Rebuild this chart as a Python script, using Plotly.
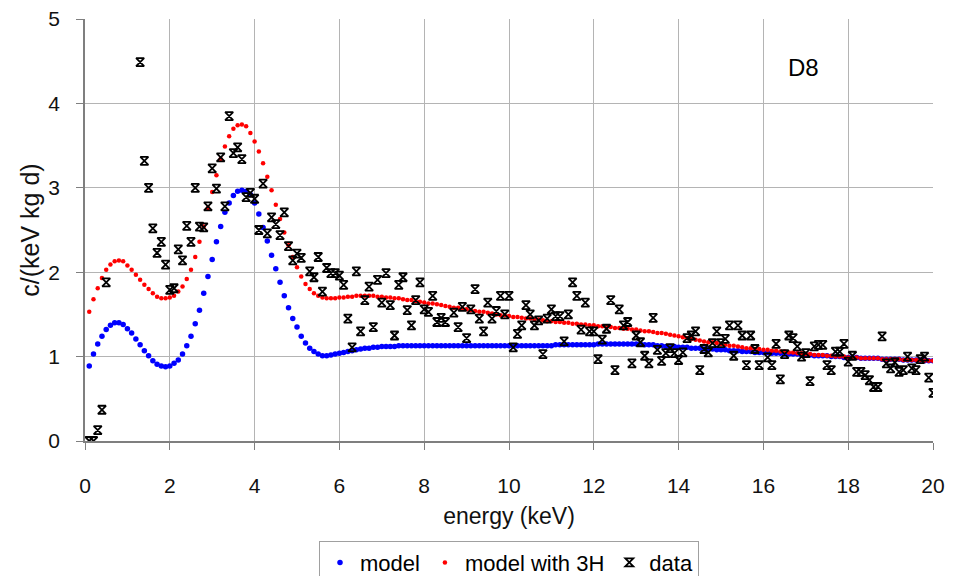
import plotly.graph_objects as go

# model energies (keV), one sample every 0.1 keV from 0.1 to 20.0
model_energy = [round(0.1 * i, 1) for i in range(1, 201)]

model = [
    0.89, 1.03, 1.15, 1.24, 1.32, 1.37, 1.40, 1.40, 1.38, 1.33,
    1.28, 1.21, 1.14, 1.07, 1.01, 0.95, 0.91, 0.89, 0.88, 0.89,
    0.92, 0.96, 1.03, 1.13, 1.24, 1.39, 1.55, 1.75, 1.95, 2.15,
    2.36, 2.54, 2.71, 2.82, 2.91, 2.96, 2.97, 2.96, 2.92, 2.82,
    2.69, 2.53, 2.37, 2.20, 2.04, 1.88, 1.72, 1.58, 1.45, 1.35,
    1.24, 1.16, 1.10, 1.06, 1.03, 1.01, 1.01, 1.02, 1.03, 1.04,
    1.05, 1.06, 1.07, 1.08, 1.09, 1.10, 1.10, 1.11, 1.11, 1.12,
    1.12, 1.12, 1.12, 1.13, 1.13, 1.13, 1.13, 1.13, 1.13, 1.13,
    1.13, 1.13, 1.13, 1.13, 1.13, 1.13, 1.13, 1.13, 1.13, 1.13,
    1.13, 1.13, 1.13, 1.13, 1.13, 1.13, 1.13, 1.13, 1.13, 1.13,
    1.13, 1.13, 1.13, 1.13, 1.13, 1.13, 1.13, 1.13, 1.13, 1.13,
    1.14, 1.14, 1.14, 1.14, 1.14, 1.14, 1.14, 1.14, 1.14, 1.14,
    1.15, 1.15, 1.15, 1.15, 1.15, 1.15, 1.15, 1.15, 1.15, 1.15,
    1.15, 1.14, 1.14, 1.14, 1.13, 1.13, 1.12, 1.12, 1.12, 1.11,
    1.11, 1.11, 1.10, 1.10, 1.10, 1.09, 1.09, 1.09, 1.08, 1.08,
    1.08, 1.07, 1.07, 1.07, 1.06, 1.06, 1.06, 1.05, 1.05, 1.05,
    1.05, 1.04, 1.04, 1.04, 1.03, 1.03, 1.03, 1.03, 1.02, 1.02,
    1.02, 1.01, 1.01, 1.01, 1.01, 1.00, 1.00, 1.00, 0.99, 0.99,
    0.99, 0.99, 0.98, 0.98, 0.98, 0.98, 0.98, 0.97, 0.97, 0.97,
    0.97, 0.97, 0.96, 0.96, 0.96, 0.96, 0.96, 0.95, 0.95, 0.95,
]

model_3h = [
    1.53, 1.68, 1.81, 1.93, 2.03, 2.09, 2.13, 2.14, 2.13, 2.08,
    2.03, 1.97, 1.91, 1.85, 1.80, 1.75, 1.71, 1.69, 1.69, 1.70,
    1.72, 1.77, 1.83, 1.92, 2.03, 2.18, 2.36, 2.54, 2.76, 2.95,
    3.15, 3.34, 3.49, 3.61, 3.70, 3.74, 3.75, 3.73, 3.65, 3.55,
    3.43, 3.29, 3.13, 2.97, 2.80, 2.63, 2.47, 2.32, 2.18, 2.06,
    1.95, 1.86, 1.80, 1.75, 1.72, 1.70, 1.69, 1.69, 1.69, 1.70,
    1.70, 1.71, 1.71, 1.72, 1.72, 1.72, 1.72, 1.72, 1.71, 1.71,
    1.70, 1.70, 1.69, 1.69, 1.68, 1.67, 1.67, 1.66, 1.65, 1.64,
    1.63, 1.63, 1.62, 1.61, 1.60, 1.59, 1.58, 1.58, 1.57, 1.56,
    1.55, 1.54, 1.53, 1.53, 1.52, 1.51, 1.50, 1.49, 1.49, 1.48,
    1.47, 1.47, 1.46, 1.45, 1.45, 1.44, 1.44, 1.43, 1.42, 1.42,
    1.41, 1.41, 1.40, 1.40, 1.39, 1.39, 1.38, 1.38, 1.37, 1.37,
    1.36, 1.36, 1.35, 1.35, 1.34, 1.34, 1.33, 1.33, 1.32, 1.32,
    1.31, 1.30, 1.30, 1.29, 1.28, 1.28, 1.27, 1.26, 1.25, 1.24,
    1.23, 1.22, 1.21, 1.20, 1.19, 1.18, 1.17, 1.17, 1.16, 1.15,
    1.14, 1.13, 1.13, 1.12, 1.11, 1.10, 1.10, 1.09, 1.09, 1.08,
    1.08, 1.07, 1.07, 1.06, 1.06, 1.05, 1.05, 1.04, 1.04, 1.03,
    1.03, 1.02, 1.02, 1.02, 1.01, 1.01, 1.00, 1.00, 1.00, 0.99,
    0.99, 0.99, 0.98, 0.98, 0.98, 0.98, 0.98, 0.97, 0.97, 0.97,
    0.97, 0.97, 0.96, 0.96, 0.96, 0.96, 0.96, 0.95, 0.95, 0.95,
]

data_energy = [
    0.1, 0.2, 0.3, 0.4, 0.5, 1.3, 1.4, 1.5, 1.6, 1.7, 1.8, 1.9,
    2.0, 2.1, 2.2, 2.3, 2.4, 2.5, 2.6, 2.7, 2.8, 2.9,
    3.0, 3.1, 3.2, 3.3, 3.4, 3.5, 3.6, 3.7, 3.8, 3.9,
    4.0, 4.1, 4.2, 4.3, 4.4, 4.5, 4.6, 4.7, 4.8, 4.9,
    5.0, 5.1, 5.3, 5.4, 5.5, 5.6, 5.7, 5.8, 5.9,
    6.0, 6.1, 6.2, 6.3, 6.4, 6.5, 6.6, 6.7, 6.8, 6.9,
    7.0, 7.1, 7.2, 7.3, 7.4, 7.5, 7.6, 7.7, 7.8, 7.9,
    8.0, 8.1, 8.2, 8.3, 8.4, 8.5, 8.7, 8.8, 8.9,
    9.0, 9.1, 9.2, 9.3, 9.4, 9.5, 9.6, 9.7, 9.8, 9.9,
    10.0, 10.1, 10.2, 10.3, 10.4, 10.5, 10.6, 10.7, 10.8, 10.9,
    11.0, 11.1, 11.2, 11.3, 11.4, 11.5, 11.6, 11.7, 11.8, 11.9,
    12.0, 12.1, 12.2, 12.3, 12.4, 12.5, 12.6, 12.7, 12.8, 12.9,
    13.0, 13.1, 13.2, 13.3, 13.4, 13.5, 13.6, 13.7, 13.8, 13.9,
    14.0, 14.1, 14.2, 14.3, 14.4, 14.5, 14.6, 14.7, 14.8, 14.9,
    15.0, 15.1, 15.2, 15.3, 15.4, 15.5, 15.6, 15.7, 15.8, 15.9,
    16.1, 16.2, 16.3, 16.4, 16.5, 16.6, 16.7, 16.8, 16.9,
    17.0, 17.1, 17.2, 17.3, 17.4, 17.5, 17.6, 17.7, 17.8, 17.9,
    18.0, 18.1, 18.2, 18.3, 18.4, 18.5, 18.6, 18.7, 18.8, 18.9,
    19.0, 19.1, 19.2, 19.3, 19.4, 19.5, 19.6, 19.7, 19.8, 19.9, 20.0,
]

data_rate = [
    0.00, 0.00, 0.13, 0.37, 1.88, 4.49, 3.32, 3.00, 2.52, 2.23, 2.36, 2.09,
    1.79, 1.81, 2.27, 2.14, 2.55, 2.36, 3.00, 2.54, 2.53, 2.78,
    3.23, 2.99, 3.36, 2.78, 3.85, 3.41, 3.48, 3.34, 2.89, 2.94,
    2.87, 2.50, 3.05, 2.46, 2.65, 2.57, 2.44, 2.71, 2.31, 2.14,
    2.22, 2.17, 2.01, 1.94, 2.18, 1.77, 2.05, 1.99, 1.99,
    1.96, 1.85, 1.45, 1.11, 2.01, 1.30, 1.67, 1.83, 1.35, 1.91,
    1.64, 1.99, 1.61, 1.25, 1.85, 1.94, 1.55, 1.37, 1.67, 1.88,
    1.56, 1.53, 1.72, 1.41, 1.46, 1.41, 1.52, 1.35, 1.59,
    1.22, 1.56, 1.80, 1.45, 1.30, 1.64, 1.45, 1.54, 1.72, 1.50,
    1.72, 1.11, 1.27, 1.37, 1.61, 1.50, 1.37, 1.43, 1.03, 1.45,
    1.56, 1.48, 1.48, 1.18, 1.50, 1.88, 1.72, 1.32, 1.64, 1.30,
    1.30, 0.97, 1.20, 1.33, 1.67, 0.84, 1.56, 1.37, 1.41, 0.92,
    1.25, 1.17, 1.01, 0.92, 1.46, 1.08, 0.95, 1.04, 1.10, 1.04,
    0.96, 1.05, 1.22, 1.25, 1.30, 0.84, 1.09, 1.05, 1.16, 1.30,
    1.16, 1.21, 1.37, 1.01, 1.37, 1.25, 0.90, 1.25, 1.09, 0.90,
    0.99, 0.90, 1.15, 0.73, 1.03, 1.25, 1.22, 1.12, 1.00,
    1.04, 0.71, 1.12, 1.14, 1.14, 0.90, 0.84, 1.06, 1.06, 1.15,
    0.94, 1.01, 0.82, 0.82, 0.78, 0.72, 0.64, 0.64, 1.24, 0.92,
    0.86, 0.93, 0.82, 0.84, 1.00, 0.86, 0.84, 0.97, 1.00, 0.75, 0.57,
]

x_ticks = [0, 2, 4, 6, 8, 10, 12, 14, 16, 18, 20]
y_ticks = [0, 1, 2, 3, 4, 5]

FONT = "Liberation Sans, Arial, Helvetica, sans-serif"

fig = go.Figure()
fig.add_trace(go.Scatter(
    x=model_energy, y=model, mode="markers", name="model",
    marker=dict(symbol="circle", size=5.5, color="#0000ff", line=dict(width=0)),
))
fig.add_trace(go.Scatter(
    x=model_energy, y=model_3h, mode="markers", name="model with 3H",
    marker=dict(symbol="circle", size=4.5, color="#ff0000", line=dict(width=0)),
))
fig.add_trace(go.Scatter(
    x=data_energy, y=data_rate, mode="markers", name="data",
    marker=dict(symbol="hourglass-open", size=8, color="#000000",
                line=dict(width=1.8, color="#000000")),
))

fig.add_annotation(x=16.95, y=4.42, xref="x", yref="y", text="D8",
                   showarrow=False, font=dict(family=FONT, size=24, color="#000000"))

fig.update_layout(
    width=958, height=576,
    margin=dict(l=85, r=25, t=19, b=135, autoexpand=False),
    paper_bgcolor="white", plot_bgcolor="white",
    font=dict(family=FONT, size=20, color="#111111"),
    showlegend=True,
    legend=dict(
        orientation="h", x=0.5, xanchor="center", y=-0.236, yanchor="top",
        bordercolor="#a0a0a0", borderwidth=1, bgcolor="white",
        font=dict(family=FONT, size=22, color="#000000"),
        itemwidth=30, tracegroupgap=0,
    ),
)

fig.update_xaxes(
    range=[0, 20], tickvals=x_ticks, ticktext=[str(v) for v in x_ticks],
    showgrid=True, gridcolor="#b4b4b4", gridwidth=1,
    showline=True, linecolor="#7f7f7f", linewidth=1.5,
    ticks="outside", ticklen=7, tickcolor="#7f7f7f",
    ticklabelstandoff=18, zeroline=False, automargin=False,
    tickfont=dict(family=FONT, size=21, color="#111111"),
    title=dict(text="energy (keV)", standoff=12,
               font=dict(family=FONT, size=23, color="#111111")),
)
fig.update_yaxes(
    range=[0, 5], tickvals=y_ticks, ticktext=[str(v) for v in y_ticks],
    showgrid=True, gridcolor="#b4b4b4", gridwidth=1,
    showline=True, linecolor="#7f7f7f", linewidth=1.5,
    ticks="outside", ticklen=7, tickcolor="#7f7f7f",
    ticklabelstandoff=12, zeroline=False, automargin=False,
    tickfont=dict(family=FONT, size=21, color="#111111"),
    title=dict(text="c/(keV kg d)", standoff=2,
               font=dict(family=FONT, size=25, color="#111111")),
)

fig.write_html("out.html")
